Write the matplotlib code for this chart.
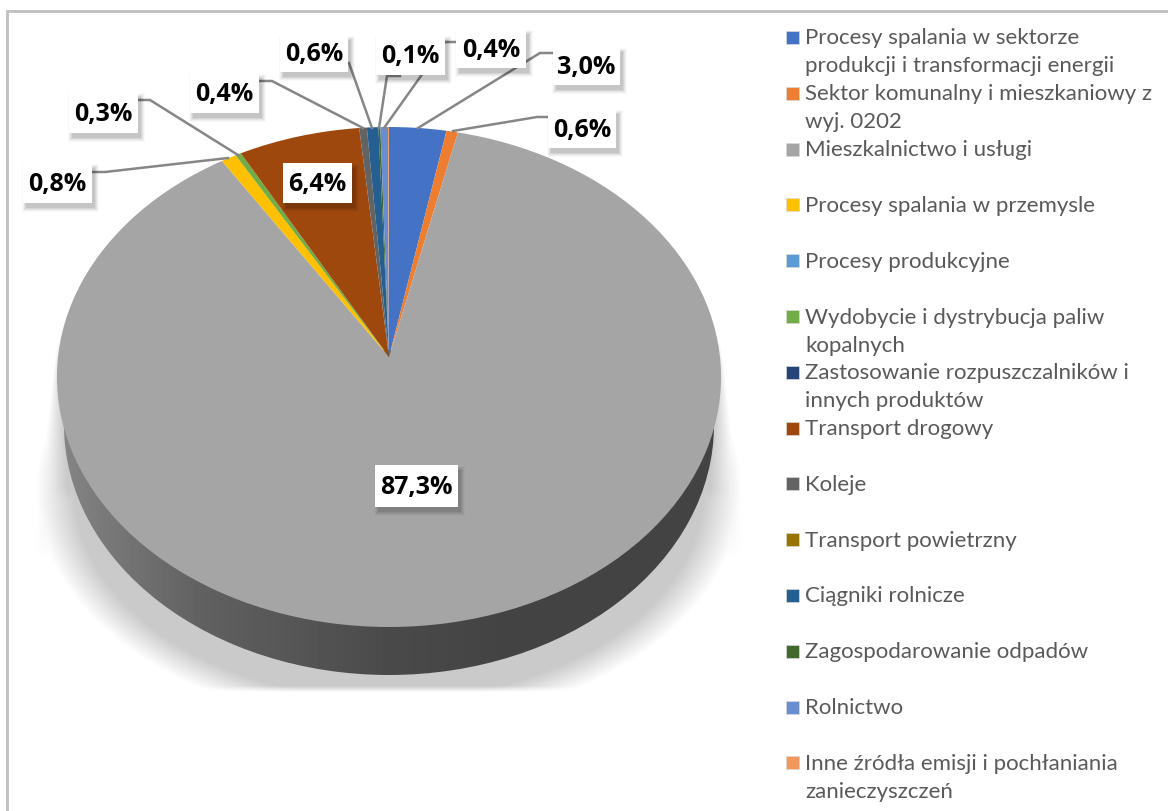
import numpy as np
import matplotlib
matplotlib.use('Agg')
import matplotlib.pyplot as plt
import matplotlib.transforms as mtransforms
from matplotlib.patches import Rectangle, Ellipse

# Data
categories = [
    'Procesy spalania w sektorze\nprodukcji i transformacji energii',
    'Sektor komunalny i mieszkaniowy z\nwyj. 0202',
    'Mieszkalnictwo i usługi',
    'Procesy spalania w przemysle',
    'Procesy produkcyjne',
    'Wydobycie i dystrybucja paliw\nkopalnych',
    'Zastosowanie rozpuszczalników i\ninnych produktów',
    'Transport drogowy',
    'Koleje',
    'Transport powietrzny',
    'Ciągniki rolnicze',
    'Zagospodarowanie odpadów',
    'Rolnictwo',
    'Inne źródła emisji i pochłaniania\nzanieczyszczeń',
]
values = [3.0, 0.6, 87.3, 0.8, 0.0, 0.3, 0.0, 6.4, 0.4, 0.0, 0.6, 0.1, 0.4, 0.05]
colors = ['#4472C4', '#ED7D31', '#A5A5A5', '#FFC000', '#5B9BD5', '#70AD47', '#264478',
          '#9E480E', '#636363', '#997300', '#255E91', '#43682B', '#698ED0', '#F1975A']

# layout in pixels: slice index, box (x0, y0, x1, y1), leader line
label_layout = [
    (0, (553, 47, 620, 85), [(418, 128), (540, 53), (553, 53)]),
    (1, (548, 109, 616, 148), [(453, 131), (537, 117), (548, 117)]),
    (2, (375, 465, 458, 507), None),
    (3, (23, 163, 92, 203), [(92, 172), (105, 172), (228, 158)]),
    (5, (69, 92, 138, 133), [(138, 100), (150, 100), (238, 155)]),
    (7, (283, 163, 352, 203), None),
    (8, (190, 73, 259, 113), [(259, 81), (272, 81), (363, 128)]),
    (10, (280, 35, 348, 72), [(349, 63), (372, 128)]),
    (11, (376, 35, 445, 75), [(400, 76), (387, 76), (379, 128)]),
    (12, (456, 29, 526, 68), [(457, 42), (445, 42), (384, 128)]),
]

APEX_X, APEX_Y = 389, 357
R, A, K = 331, 248.4, 0.08


class Tilt(mtransforms.Transform):
    # unit pie -> tilted disc in pixel coords
    input_dims = 2
    output_dims = 2
    is_separable = False

    def transform_non_affine(self, values):
        xy = np.asarray(values, dtype=float)
        d = 1 + K * xy[:, 1]
        return np.column_stack([APEX_X + R * xy[:, 0] / d, APEX_Y - A * xy[:, 1] / d])


fig = plt.figure(figsize=(11.68, 8.11), dpi=100, facecolor='white')
ax = fig.add_axes([0, 0, 1, 1])

wedges, _ = ax.pie(values, colors=colors, startangle=90, counterclock=False, radius=1)
ax.set_aspect('auto')
ax.set_xlim(0, 1168)
ax.set_ylim(811, 0)
ax.axis('off')
for w in wedges:
    w.set_transform(Tilt() + ax.transData)
    w.set_zorder(3)
    w.set_linewidth(0)

# soft shadow behind the disc
yy, xx = np.mgrid[330:700, 0:1168]
xx = xx + 0.5
yy = yy + 0.5
dx = np.abs(xx - APEX_X)
d_ell = (1 - np.sqrt((dx / 353) ** 2 + ((yy - 490) / 235) ** 2)) * 235
edge = 332 + (yy - 340) * 21 / 180
soft = 3 + np.clip(yy - 340, 0, 220) * 0.17
d_trap = np.where(yy > 340, edge - dx, -1)
fade = np.clip((560 - yy) / 70, 0, 1)
a = np.maximum(np.clip(d_ell / 26, 0, 1), np.clip(d_trap / soft, 0, 1) * fade)
a = a * np.clip((692 - yy) / 6, 0, 1) * np.clip((yy - 340) / 30, 0, 1)
shadow = np.zeros(xx.shape + (4,))
shadow[..., :3] = 0.35
shadow[..., 3] = a * 0.32
ax.imshow(shadow, extent=(0, 1168, 700, 330), aspect='auto', zorder=1, interpolation='bilinear')

# side wall of the disc, dark gradient
ramp = np.interp(np.arange(0, 1168), [60, 200, 389, 500, 730], [0.52, 0.38, 0.29, 0.265, 0.265])
wall = ax.imshow(ramp[None, :], extent=(0, 1168, 700, 350), aspect='auto', cmap='gray',
                 vmin=0, vmax=1, zorder=2)
wall_shape = Ellipse((APEX_X, 425), 650, 500, transform=ax.transData, facecolor='none', edgecolor='none')
ax.add_patch(wall_shape)
wall.set_clip_path(wall_shape)
ax.set_xlim(0, 1168)
ax.set_ylim(811, 0)

# labels
for idx, box, leader in label_layout:
    x0, y0, x1, y1 = box
    if leader:
        ax.plot([p[0] for p in leader], [p[1] for p in leader], color='#868686', lw=1.8,
                solid_joinstyle='miter', zorder=4)
    for grow, al in [(4, 0.025), (3, 0.035), (2, 0.05), (1, 0.06), (0, 0.07)]:
        ax.add_patch(Rectangle((x0 + 3 - grow, y0 + 5 - grow), x1 - x0 + 2 * grow, y1 - y0 + 2 * grow,
                               facecolor='black', alpha=al, edgecolor='none', zorder=5))
    ax.add_patch(Rectangle((x0, y0), x1 - x0, y1 - y0, facecolor='white', edgecolor='none', zorder=6))
    txt = f'{values[idx]:.1f}%'.replace('.', ',')
    ax.text((x0 + x1) / 2, (y0 + y1) / 2 + 1.5, txt, ha='center', va='center', fontsize=18,
            family='Open Sans', weight='bold', color='black', zorder=7)

# legend, every entry takes two text rows
for i, (name, col) in enumerate(zip(categories, colors)):
    y = 37 + 55.8 * i
    ax.add_patch(Rectangle((786, y - 6), 13, 13, facecolor=col, edgecolor='#d9d9d9', lw=0.5, zorder=3))
    for j, line in enumerate(name.split('\n')):
        ax.text(805, y + 1.5 + 28 * j, line, ha='left', va='center', fontsize=16, family='Lato', color='#595959')

# frame, only left and top are visible
ax.plot([7, 7, 1168], [811, 11, 11], color='#bfbfbf', lw=2, solid_joinstyle='miter')

fig.savefig('out.png', dpi=100)
